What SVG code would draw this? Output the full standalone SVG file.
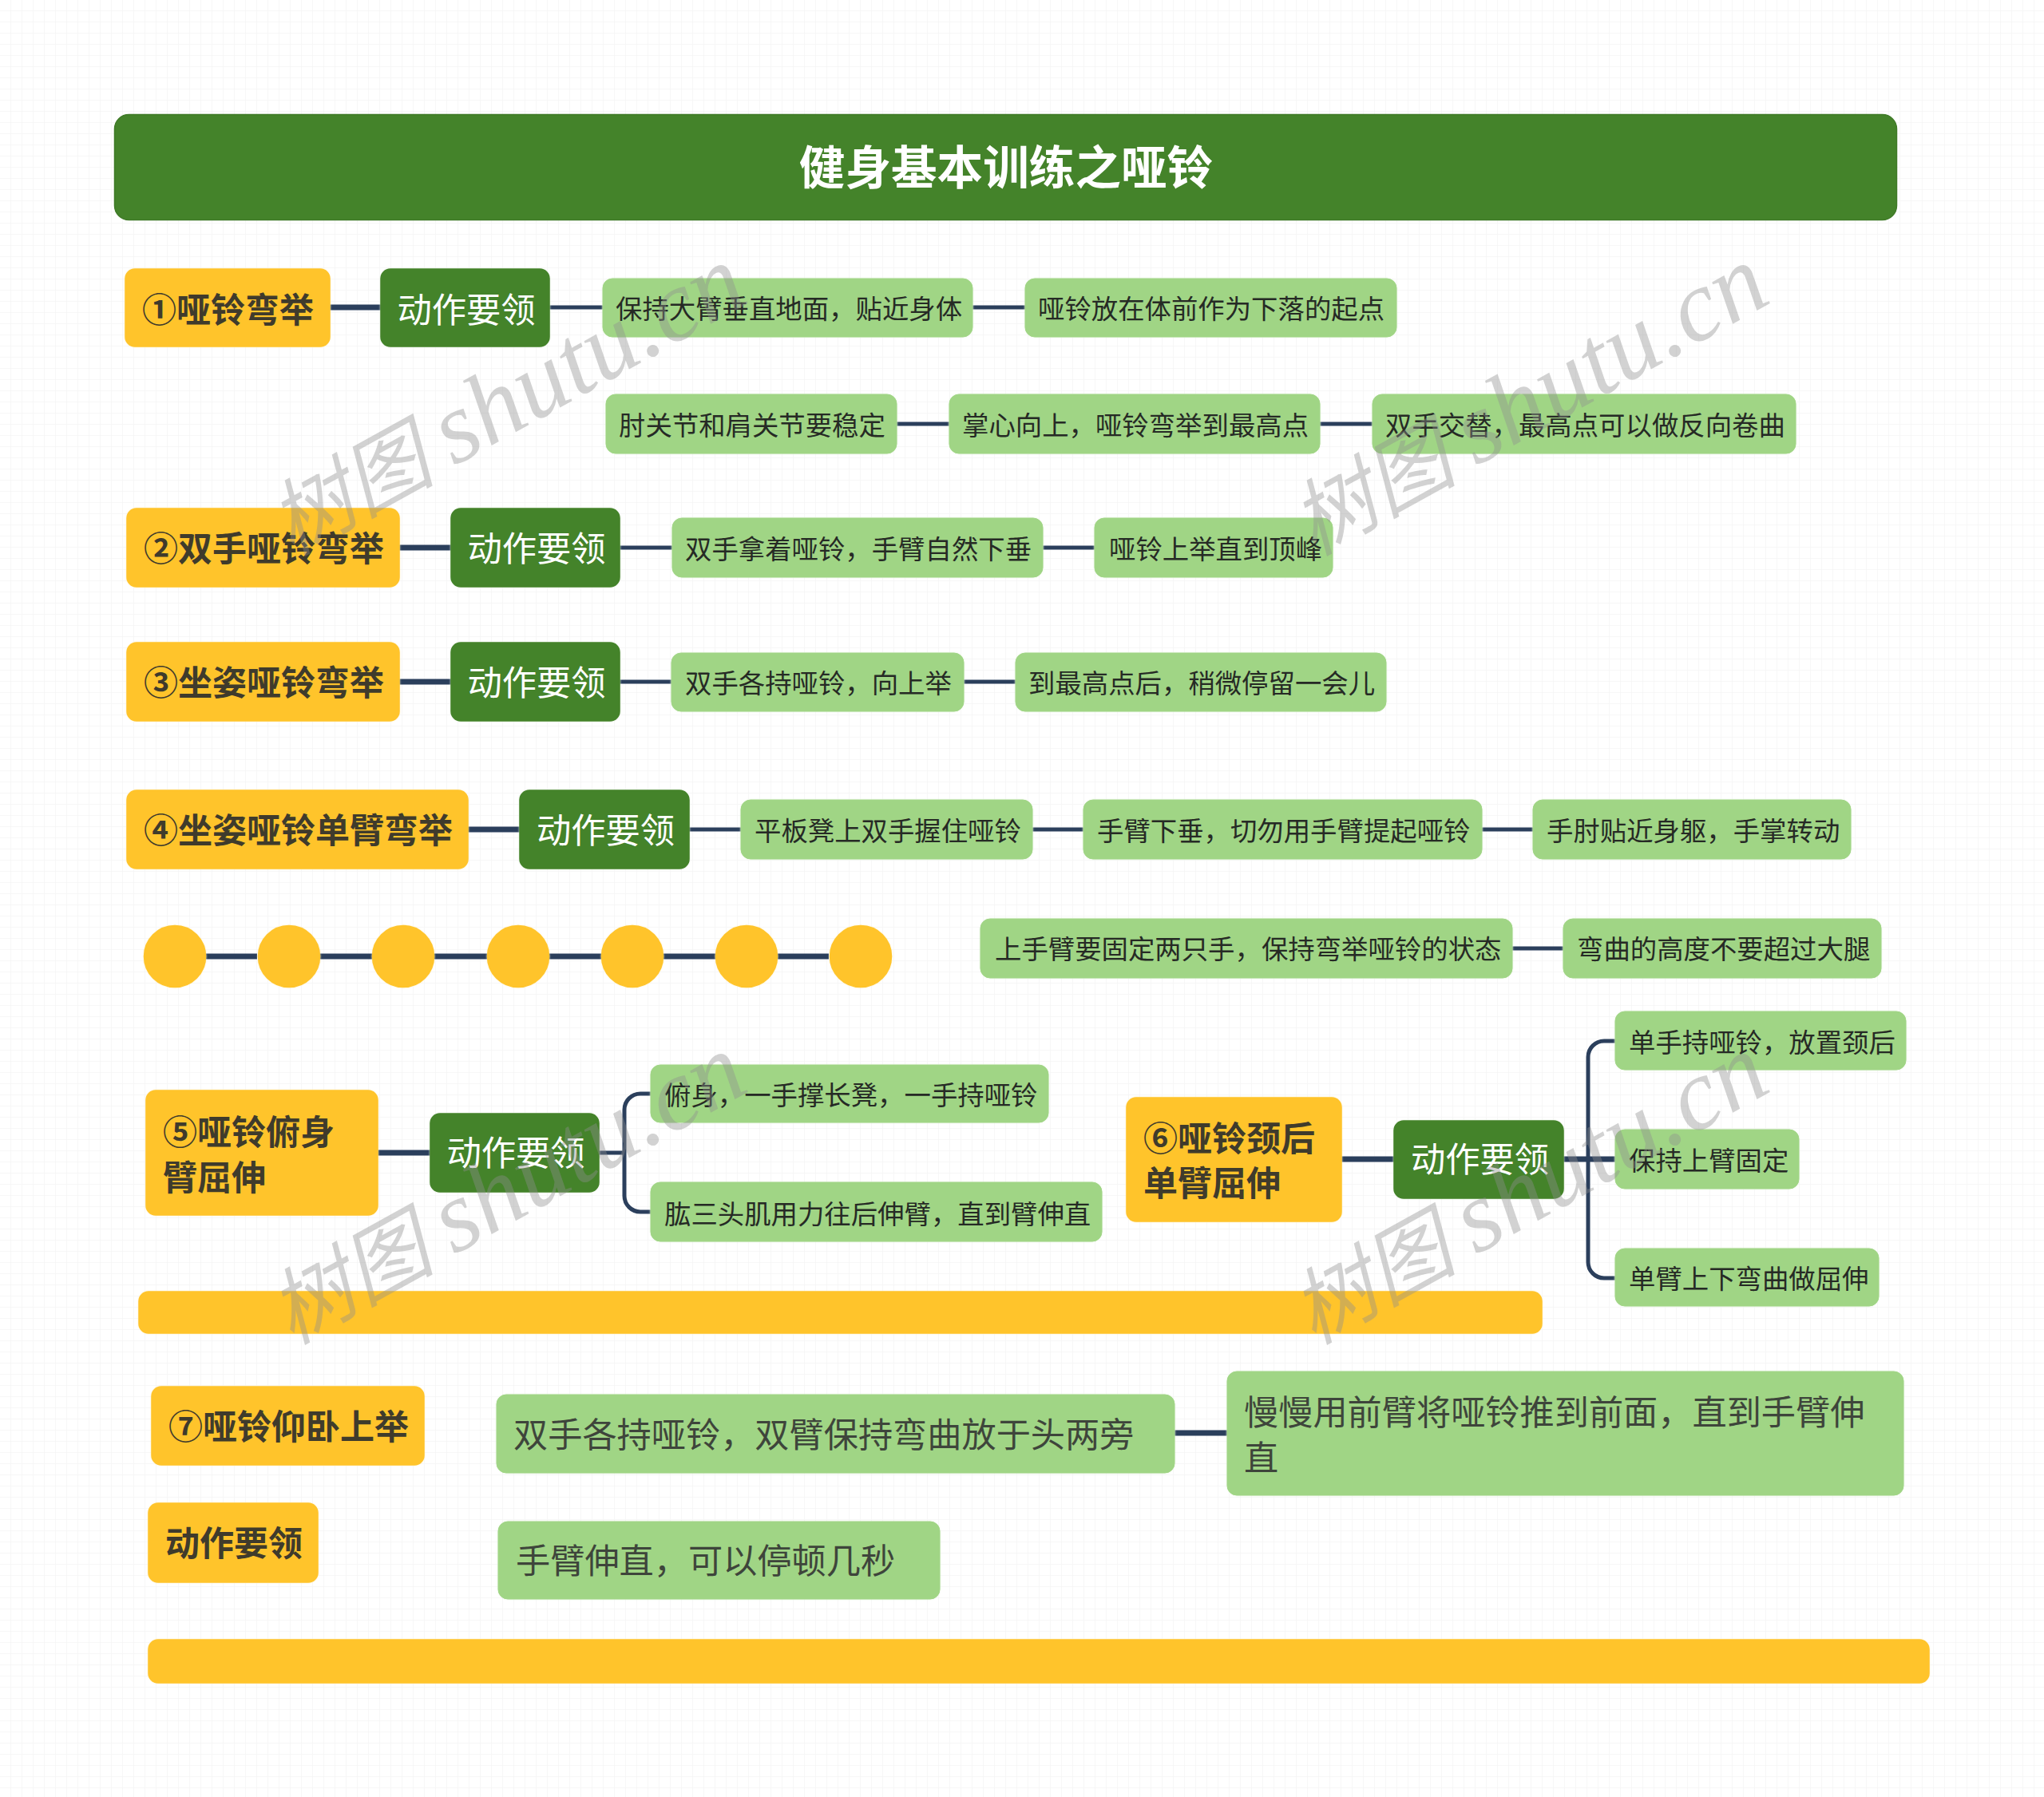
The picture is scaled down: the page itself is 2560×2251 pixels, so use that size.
<svg xmlns="http://www.w3.org/2000/svg" width="2560" height="2251" viewBox="0 0 2560 2251">
<defs>
<style>
text{font-family:"Noto Sans CJK SC","Liberation Sans",sans-serif}
.y{fill:#FFC42B;stroke:#FFC42B;stroke-width:1.5;filter:drop-shadow(0 0 1px #FDF3D0)}
.g{fill:#44832A;stroke:#44832A;stroke-width:1.5;filter:drop-shadow(0 0 1px #E6F0E0)}
.l{fill:#A0D585;stroke:#A0D585;stroke-width:1;filter:drop-shadow(0 0 1px #E8F5E0)}
.ty{font-size:43px;font-weight:700;fill:#3F3B2C}
.tg{font-size:43.3px;fill:#fff}
.tl{font-size:33.4px;fill:#262A25}
.tb{font-size:43.2px;fill:#3E453B}
.c7{stroke:#2B3F5C;stroke-width:7;fill:none}
.c5{stroke:#2B3F5C;stroke-width:5;fill:none}
.wm{font-size:127px;fill:#8F8F8F;fill-opacity:.4;font-family:"Liberation Serif","Noto Sans CJK SC",serif;font-style:italic}
.wc{font-size:104px}
</style>
<pattern id="grid" width="14" height="14" patternUnits="userSpaceOnUse"><path d="M14 0V14M0 14H14" stroke="#F5F5F5" stroke-width="1.5" fill="none"/></pattern>
</defs>
<rect width="2560" height="2251" fill="#fff"/>
<rect width="2560" height="2251" fill="url(#grid)"/>
<g id="connectors">
<path class="c7" d="M413 385H477"/><path class="c5" d="M688 385H755M1218 385H1284"/>
<path class="c5" d="M1123 531H1189M1653 531H1719"/>
<path class="c7" d="M500 686H565"/><path class="c5" d="M776 686H842M1306 686H1371"/>
<path class="c7" d="M500 854H565"/><path class="c5" d="M776 854H841M1207 854H1272"/>
<path class="c7" d="M586 1039H651"/><path class="c5" d="M863 1039H928M1293 1039H1357M1856 1039H1920"/>
<path class="c7" d="M258 1198H322M401 1198H466M544 1198H610M688 1198H753M831 1198H896M974 1198H1038"/>
<path class="c5" d="M1894 1188H1958"/>
<path class="c7" d="M473 1444H539"/><path class="c5" d="M750 1444H782M815 1370H802A20 20 0 0 0 782 1390V1498A20 20 0 0 0 802 1518H815"/>
<path class="c7" d="M1680 1452H1746"/><path class="c7" d="M1958 1452H2023"/><path class="c5" d="M2023 1304H2009A20 20 0 0 0 1989 1324V1581A20 20 0 0 0 2009 1601H2023"/>
<path class="c7" d="M1471 1795H1537"/>
</g>
<g id="title"><rect x="143.500" y="143.500" width="2232" height="132" rx="18" fill="#44832A" stroke="#3F7A27" stroke-width="1.5"/><text x="1260" y="231" text-anchor="middle" font-size="57.6" font-weight="700" fill="#fff">健身基本训练之哑铃</text></g>
<g id="n1"><rect class="y" x="157" y="337" width="256" height="97" rx="12"/><text class="ty" x="178" y="403.500">①哑铃弯举</text></g>
<g id="n1a"><rect class="g" x="477" y="337" width="211" height="97" rx="12"/><text class="tg" x="584" y="403.500" text-anchor="middle">动作要领</text></g>
<g id="n1b"><rect class="l" x="755" y="349" width="463" height="73" rx="12"/><text class="tl" x="771" y="399">保持大臂垂直地面，贴近身体</text></g>
<g id="n1c"><rect class="l" x="1284" y="349" width="465" height="73" rx="12"/><text class="tl" x="1300" y="399">哑铃放在体前作为下落的起点</text></g>
<g id="n1d"><rect class="l" x="759" y="494" width="364" height="74" rx="12"/><text class="tl" x="775" y="545">肘关节和肩关节要稳定</text></g>
<g id="n1e"><rect class="l" x="1189" y="494" width="464" height="74" rx="12"/><text class="tl" x="1205" y="545">掌心向上，哑铃弯举到最高点</text></g>
<g id="n1f"><rect class="l" x="1719" y="494" width="530" height="74" rx="12"/><text class="tl" x="1735" y="545">双手交替，最高点可以做反向卷曲</text></g>
<g id="n2"><rect class="y" x="159" y="637" width="341" height="98" rx="12"/><text class="ty" x="180" y="703">②双手哑铃弯举</text></g>
<g id="n2a"><rect class="g" x="565" y="637" width="211" height="98" rx="12"/><text class="tg" x="672" y="703" text-anchor="middle">动作要领</text></g>
<g id="n2b"><rect class="l" x="842" y="649" width="464" height="74" rx="12"/><text class="tl" x="858" y="699.500">双手拿着哑铃，手臂自然下垂</text></g>
<g id="n2c"><rect class="l" x="1371" y="649" width="298" height="74" rx="12"/><text class="tl" x="1389" y="699.500">哑铃上举直到顶峰</text></g>
<g id="n3"><rect class="y" x="159" y="805" width="341" height="98" rx="12"/><text class="ty" x="180" y="871">③坐姿哑铃弯举</text></g>
<g id="n3a"><rect class="g" x="565" y="805" width="211" height="98" rx="12"/><text class="tg" x="672" y="871" text-anchor="middle">动作要领</text></g>
<g id="n3b"><rect class="l" x="841" y="818" width="366" height="73" rx="12"/><text class="tl" x="858" y="867.500">双手各持哑铃，向上举</text></g>
<g id="n3c"><rect class="l" x="1272" y="818" width="464" height="73" rx="12"/><text class="tl" x="1288" y="867.500">到最高点后，稍微停留一会儿</text></g>
<g id="n4"><rect class="y" x="159" y="990" width="427" height="98" rx="12"/><text class="ty" x="180" y="1056">④坐姿哑铃单臂弯举</text></g>
<g id="n4a"><rect class="g" x="651" y="990" width="212" height="98" rx="12"/><text class="tg" x="758.500" y="1056" text-anchor="middle">动作要领</text></g>
<g id="n4b"><rect class="l" x="928" y="1002" width="365" height="74" rx="12"/><text class="tl" x="945" y="1052.500">平板凳上双手握住哑铃</text></g>
<g id="n4c"><rect class="l" x="1357" y="1002" width="499" height="74" rx="12"/><text class="tl" x="1374" y="1052.500">手臂下垂，切勿用手臂提起哑铃</text></g>
<g id="n4d"><rect class="l" x="1920" y="1002" width="398" height="74" rx="12"/><text class="tl" x="1937" y="1052.500">手肘贴近身躯，手掌转动</text></g>
<g id="dots">
<circle class="y" cx="219" cy="1198" r="38.500"/><circle class="y" cx="362" cy="1198" r="38.500"/><circle class="y" cx="505" cy="1198" r="38.500"/><circle class="y" cx="649" cy="1198" r="38.500"/><circle class="y" cx="792" cy="1198" r="38.500"/><circle class="y" cx="935" cy="1198" r="38.500"/><circle class="y" cx="1078" cy="1198" r="38.500"/>
</g>
<g id="n4e"><rect class="l" x="1228" y="1151" width="666" height="74" rx="12"/><text class="tl" x="1246" y="1201">上手臂要固定两只手，保持弯举哑铃的状态</text></g>
<g id="n4f"><rect class="l" x="1958" y="1151" width="398" height="74" rx="12"/><text class="tl" x="1975" y="1201">弯曲的高度不要超过大腿</text></g>
<g id="n5"><rect class="y" x="183" y="1366" width="290" height="156" rx="12"/><text class="ty" x="204" y="1434">⑤哑铃俯身</text><text class="ty" x="204" y="1491">臂屈伸</text></g>
<g id="n5a"><rect class="g" x="539" y="1395" width="211" height="98" rx="12"/><text class="tg" x="646" y="1460" text-anchor="middle">动作要领</text></g>
<g id="n5b"><rect class="l" x="815" y="1334" width="498" height="72" rx="12"/><text class="tl" x="832" y="1384">俯身，一手撑长凳，一手持哑铃</text></g>
<g id="n5c"><rect class="l" x="815" y="1481" width="565" height="74" rx="12"/><text class="tl" x="832" y="1532.500">肱三头肌用力往后伸臂，直到臂伸直</text></g>
<g id="n6"><rect class="y" x="1411" y="1375" width="269" height="155" rx="12"/><text class="ty" x="1432" y="1442">⑥哑铃颈后</text><text class="ty" x="1432" y="1498">单臂屈伸</text></g>
<g id="n6a"><rect class="g" x="1746" y="1404" width="212" height="97" rx="12"/><text class="tg" x="1853.500" y="1468" text-anchor="middle">动作要领</text></g>
<g id="n6b"><rect class="l" x="2023" y="1267" width="364" height="73" rx="12"/><text class="tl" x="2040" y="1318">单手持哑铃，放置颈后</text></g>
<g id="n6c"><rect class="l" x="2023" y="1415" width="230" height="74" rx="12"/><text class="tl" x="2040" y="1465.500">保持上臂固定</text></g>
<g id="n6d"><rect class="l" x="2023" y="1564" width="330" height="72" rx="12"/><text class="tl" x="2040" y="1613.500">单臂上下弯曲做屈伸</text></g>
<g id="bar1"><rect class="y" x="174" y="1618" width="1757" height="52" rx="12"/></g>
<g id="n7"><rect class="y" x="190" y="1737" width="341" height="98" rx="12"/><text class="ty" x="211" y="1802.500">⑦哑铃仰卧上举</text></g>
<g id="n7s"><rect class="y" x="186" y="1883" width="212" height="99" rx="12"/><text class="ty" x="293" y="1948.500" text-anchor="middle">动作要领</text></g>
<g id="n7a"><rect class="l" x="622" y="1747" width="849" height="98" rx="12"/><text class="tb" x="643" y="1812.500">双手各持哑铃，双臂保持弯曲放于头两旁</text></g>
<g id="n7b"><rect class="l" x="1537" y="1718" width="847" height="155" rx="12"/><text class="tb" x="1558" y="1784.500">慢慢用前臂将哑铃推到前面，直到手臂伸</text><text class="tb" x="1558" y="1841.500">直</text></g>
<g id="n7c"><rect class="l" x="624" y="1906" width="553" height="97" rx="12"/><text class="tb" x="646" y="1970.500">手臂伸直，可以停顿几秒</text></g>
<g id="bar2"><rect class="y" x="186" y="2054" width="2230" height="54" rx="12"/></g>
<g id="watermarks">
<text class="wm" transform="translate(365 697) rotate(-29)"><tspan class="wc">树图</tspan> <tspan dx="-7">shutu.cn</tspan></text>
<text class="wm" transform="translate(1645 697) rotate(-29)"><tspan class="wc">树图</tspan> <tspan dx="-7">shutu.cn</tspan></text>
<text class="wm" transform="translate(365 1685) rotate(-29)"><tspan class="wc">树图</tspan> <tspan dx="-7">shutu.cn</tspan></text>
<text class="wm" transform="translate(1645 1685) rotate(-29)"><tspan class="wc">树图</tspan> <tspan dx="-7">shutu.cn</tspan></text>
</g>
</svg>
